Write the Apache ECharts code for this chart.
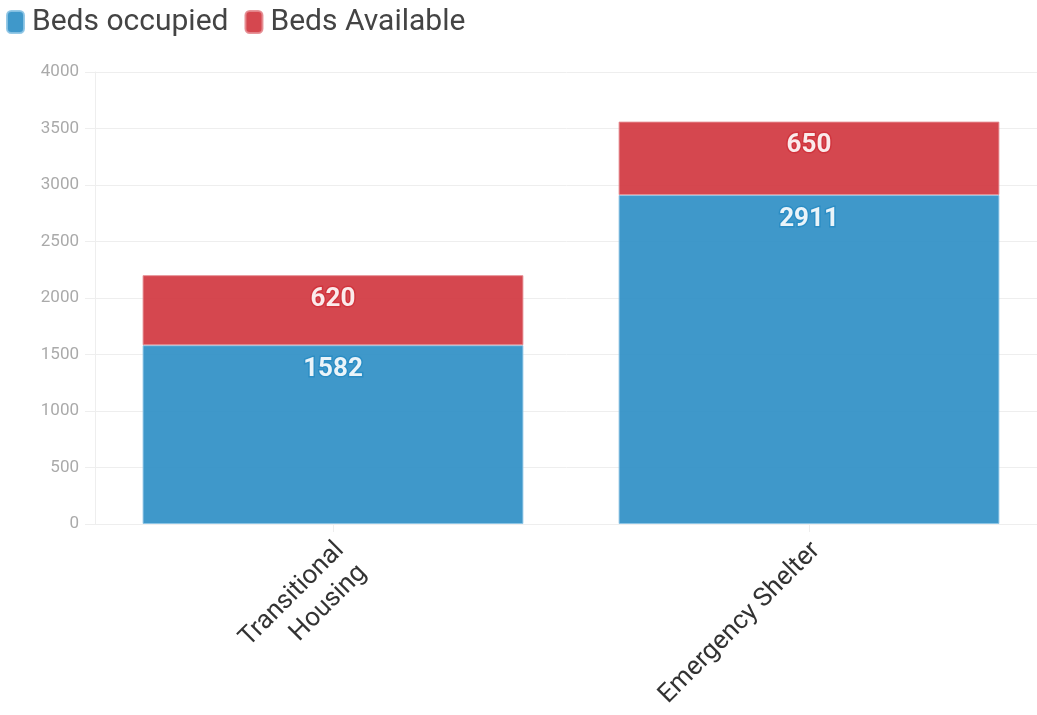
<!DOCTYPE html>
<html>
<head>
<meta charset="utf-8">
<script src="https://cdn.jsdelivr.net/npm/echarts@6/dist/echarts.min.js"></script>
<style>
    html, body { margin: 0; padding: 0; background: #fff; }
    #main { width: 1037px; height: 715px; }
</style>
</head>
<body>
<div id="main"></div>
<script>
var categories = ['Transitional\nHousing', 'Emergency Shelter'];
var occupied = [1582, 2911];
var available = [620, 650];
var yTicks = [0, 500, 1000, 1500, 2000, 2500, 3000, 3500, 4000];

var blue = '#2a8dc4';
var red = '#d0333c';

function barLabel(color) {
    return {
        show: true,
        position: 'insideTop',
        distance: 11,
        color: '#fff',
        fontFamily: 'Roboto',
        fontWeight: 'bold',
        fontSize: 26,
        textBorderColor: color,
        textBorderWidth: 3
    };
}

var myChart = echarts.init(document.getElementById('main'));
myChart.setOption({
    animation: false,
    legend: {
        left: 6,
        top: 7,
        padding: 0,
        itemWidth: 17,
        itemHeight: 22,
        itemGap: 16,
        icon: 'roundRect',
        textStyle: { fontFamily: 'Roboto', fontSize: 30, color: '#444', padding: [0, 0, 0, 3] },
        data: ['Beds occupied', 'Beds Available']
    },
    grid: {
        left: 95,
        width: 952,
        top: 72,
        bottom: 191,
        outerBoundsMode: 'none'
    },
    xAxis: {
        type: 'category',
        data: categories,
        axisLine: { lineStyle: { color: '#eee' } },
        axisTick: { show: true, length: 8, alignWithLabel: true, lineStyle: { color: '#eee' } },
        axisLabel: {
            rotate: 45,
            margin: 7,
            align: 'right',
            verticalAlign: 'top',
            padding: [0, 6, 0, 0],
            fontFamily: 'Roboto',
            fontSize: 26,
            color: '#333',
            lineHeight: 32
        }
    },
    yAxis: {
        type: 'value',
        min: yTicks[0],
        max: yTicks[yTicks.length - 1],
        interval: yTicks[1] - yTicks[0],
        axisLine: { show: true, lineStyle: { color: '#eee' } },
        axisTick: { show: true, length: 10, lineStyle: { color: '#eee' } },
        axisLabel: {
            fontFamily: 'Roboto',
            fontSize: 17,
            color: '#aaa',
            margin: 16,
            formatter: function (v) { return String(v); }
        },
        splitLine: { lineStyle: { color: '#eee' } }
    },
    series: [
        {
            name: 'Beds occupied',
            type: 'bar',
            stack: 'beds',
            barCategoryGap: '20%',
            data: occupied,
            itemStyle: { color: blue, opacity: 0.9, borderColor: '#8cc4e4', borderWidth: 1 },
            label: barLabel(blue)
        },
        {
            name: 'Beds Available',
            type: 'bar',
            stack: 'beds',
            barCategoryGap: '20%',
            data: available,
            itemStyle: { color: red, opacity: 0.9, borderColor: '#e48a8f', borderWidth: 1 },
            label: barLabel(red)
        }
    ]
});
window.onresize = myChart.resize;
</script>
</body>
</html>
